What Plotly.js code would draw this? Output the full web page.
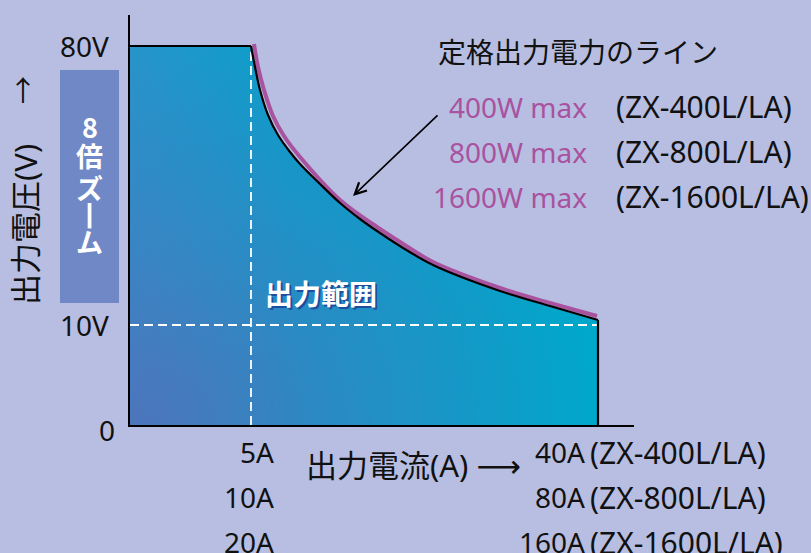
<!DOCTYPE html>
<html>
<head>
<meta charset="utf-8">
<script src="https://cdn.plot.ly/plotly-3.0.1.min.js"></script>
<style>html,body{margin:0;padding:0;background:#b7bee1;}#chart{width:811px;height:553px;}</style>
</head>
<body>
<div id="chart"></div>
<script>
// ---- data (schematic chart: positions in axis units) ----
// output-range boundary (black line): constant 80V up to 5A, then the rated-power curve down to 10V at max current
const flatX = [0, 121];
const flatY = [379, 379];
const curveX = [121, 125, 130, 138, 148, 160, 170, 190, 210, 230, 250, 270, 303, 370, 420, 468];
const curveY = [379, 358, 335, 310, 290, 273, 261, 241, 222, 206, 192, 179, 160, 134, 119, 105];
// rated power line (magenta)
const ratedX = [124, 128, 134, 143, 154, 170, 210, 250, 270, 303, 370, 420, 467];
const ratedY = [381, 358, 335, 309, 289, 268, 225, 196, 183, 163, 137, 122, 109];
// key levels
const v80 = 379, v10 = 100, v0 = 0;
const i5 = 121, iMax = 468;
const voltLabels = ['80V', '10V', '0'];
const voltValues = [v80, v10, v0];
const ampsLow = ['5A', '10A', '20A'];
const ampsHigh = ['40A', '80A', '160A'];
const models = ['ZX-400L/LA', 'ZX-800L/LA', 'ZX-1600L/LA'];
const watts = ['400W max', '800W max', '1600W max'];
const zoomChars = ['8', '倍', 'ズ', '丨', 'ム'];

// ---- layout helpers ----
const FONT = "'Noto Sans', 'Noto Sans CJK JP', 'DejaVu Sans', sans-serif";
const BOLD = "'Noto Sans CJK JP', 'Noto Sans', sans-serif";
const L = 130, T = 15, W = 504, H = 410;
const px = x => (x - L) / W;          // pixel x -> paper
const py = y => (T + H - y) / H;      // pixel y -> paper
const BG = '#b7bee1', MAG = '#a9529f';

// fill polygon
const polyX = [0].concat(flatX, curveX.slice(1), [iMax]);
const polyY = [0].concat(flatY, curveY.slice(1), [0]);
// overlay polygon with a zero-area spike so the radial gradient is centred at the origin
const ovX = [0, -iMax, 0].concat(polyX.slice(1));
const ovY = [0, -v80, 0].concat(polyY.slice(1));

const traces = [
  {x: polyX, y: polyY, mode: 'none', fill: 'toself', hoverinfo: 'skip',
   fillgradient: {type: 'horizontal', colorscale: [[0, '#2794ca'], [0.35, '#0a9fca'], [1, '#00a8ca']]}},
  {x: ovX, y: ovY, mode: 'none', fill: 'toself', hoverinfo: 'skip',
   fillgradient: {type: 'radial', colorscale: [[0, 'rgba(88,108,184,0.78)'], [0.5, 'rgba(88,108,184,0.36)'], [1, 'rgba(88,108,184,0)']]}},
  {x: [0, iMax], y: [v10, v10], mode: 'lines', hoverinfo: 'skip',
   line: {color: '#ffffff', width: 1.8, dash: '9px,5px'}},
  {x: [i5, i5], y: [0, v80], mode: 'lines', hoverinfo: 'skip',
   line: {color: '#ffffff', width: 1.8, dash: '9px,5px'}},
  {x: ratedX, y: ratedY, mode: 'lines', hoverinfo: 'skip',
   line: {color: MAG, width: 4, shape: 'spline', smoothing: 1}},
  {x: flatX, y: flatY, mode: 'lines', hoverinfo: 'skip', line: {color: '#000', width: 2.2}},
  {x: curveX, y: curveY, mode: 'lines', hoverinfo: 'skip',
   line: {color: '#000', width: 2.2, shape: 'spline', smoothing: 1}},
  {x: [iMax, iMax], y: [curveY[curveY.length - 1], 0], mode: 'lines', hoverinfo: 'skip',
   line: {color: '#000', width: 2.2}}
];

const ann = [];
const txt = (text, x, y, o) => Object.assign({text: text, xref: 'paper', yref: 'paper', x: px(x), y: py(y),
  showarrow: false, font: {family: FONT, size: 28, color: '#111'}, xanchor: 'center', yanchor: 'middle'}, o || {});

// voltage labels
voltLabels.forEach((t, i) => ann.push({text: t, xref: 'paper', yref: 'y', x: px(i === 2 ? 117 : 111), y: voltValues[i],
  yshift: i === 2 ? -5 : 0, xanchor: 'right', yanchor: 'middle', showarrow: false,
  font: {family: FONT, size: 28, color: '#111'}}));
// y axis title and arrow
ann.push(txt('出力電圧(V)', 25, 225, {textangle: -90, font: {family: FONT, size: 31, color: '#111'}}));
ann.push(txt('→', 23, 90, {textangle: -90}));
// zoom box text
const zoomY = [126, 155, 187, 214, 241];
zoomChars.forEach((c, i) => ann.push(txt('<b>' + c + '</b>', 89.5, zoomY[i], {height: 29, font: {family: BOLD, size: 27, color: '#fff'}})));
// current labels
const rowY = [452, 497, 542];
ampsLow.forEach((t, i) => ann.push(txt(t, 276, rowY[i], {xanchor: 'right'})));
ampsHigh.forEach((t, i) => ann.push(txt(t, 587, rowY[i], {xanchor: 'right'})));
models.forEach((t, i) => ann.push(txt('(' + t + ')', 588, rowY[i], {xanchor: 'left', font: {family: FONT, size: 30, color: '#111'}})));
ann.push(txt('出力電流(A) ⟶', 304, 465, {xanchor: 'left', font: {family: FONT, size: 31, color: '#111'}}));
// legend for rated power lines
ann.push(txt('定格出力電力のライン', 436, 52, {xanchor: 'left'}));
const legY = [107, 152, 197];
watts.forEach((t, i) => ann.push(txt(t, 589, legY[i], {xanchor: 'right', font: {family: FONT, size: 28, color: MAG}})));
models.forEach((t, i) => ann.push(txt('(' + t + ')', 614, legY[i], {xanchor: 'left', font: {family: FONT, size: 30, color: '#111'}})));
// output range label
ann.push({text: '<b>出力範囲</b>', xref: 'x', yref: 'y', x: 191, y: 132, showarrow: false,
  font: {family: BOLD, size: 28, color: '#fff', shadow: '2px 2px 0px #1d4e9e'}});
// arrow pointing at the rated power line
ann.push({text: '', xref: 'x', yref: 'y', axref: 'x', ayref: 'y', x: 223, y: 229, ax: 309, ay: 311,
  showarrow: true, arrowhead: 5, arrowsize: 1.4, arrowwidth: 1.6, arrowcolor: '#000', standoff: 0, startstandoff: 0});

const layout = {
  width: 811, height: 553,
  margin: {l: L, r: 811 - L - W, t: T, b: 553 - T - H, pad: 0},
  paper_bgcolor: BG, plot_bgcolor: BG,
  showlegend: false,
  xaxis: {range: [0, 504], showline: true, linecolor: '#000', linewidth: 2, showgrid: false, zeroline: false,
          showticklabels: false, ticks: '', fixedrange: true},
  yaxis: {range: [0, 410], showline: true, linecolor: '#000', linewidth: 2, showgrid: false, zeroline: false,
          showticklabels: false, ticks: '', fixedrange: true},
  shapes: [{type: 'rect', xref: 'paper', yref: 'paper', x0: px(60), x1: px(119), y0: py(303), y1: py(70),
            fillcolor: '#7088c5', line: {width: 0}, layer: 'below'}],
  annotations: ann
};

Plotly.newPlot('chart', traces, layout, {displayModeBar: false, staticPlot: true});
</script>
</body>
</html>
